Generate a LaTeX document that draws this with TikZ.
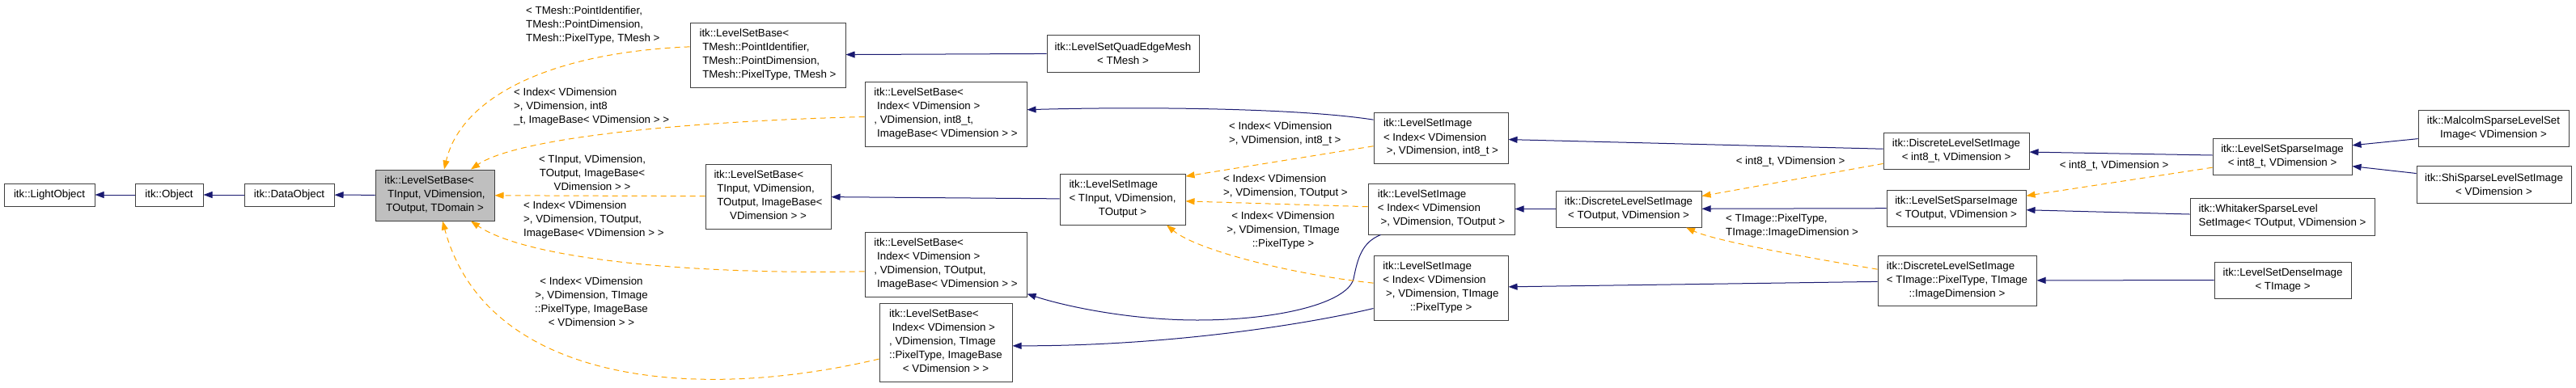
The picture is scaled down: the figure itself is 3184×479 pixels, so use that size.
\documentclass[tikz,border=0pt]{standalone}
\usepackage{fontspec}
\setmainfont{Liberation Sans}
\usetikzlibrary{arrows.meta}
\definecolor{dxblue}{HTML}{191970}
\definecolor{dxorange}{HTML}{FFA500}
\definecolor{dxgray}{HTML}{BFBFBF}
\newcommand{\indt}{\hspace*{.28em}}
\newcommand{\lastc}[2]{\begin{tabular}{@{}l@{}}#1\\\multicolumn{1}{@{}c@{}}{#2}\end{tabular}}

\begin{document}
\begin{tikzpicture}[x=1pt,y=-1pt,
	cls/.style={shape=rectangle,draw=black!75,line width=1pt,inner sep=0pt,font=\fontsize{13.3}{17}\selectfont},
	lbl/.style={inner sep=0pt,font=\fontsize{13.3}{17}\selectfont},
	inh/.style={draw=dxblue,line width=1pt,-{Triangle[length=11pt,width=8pt]}},
	tpl/.style={draw=dxorange,line width=1pt,dash pattern=on 7pt off 5pt,-{Triangle[length=11pt,width=8pt]}}]
		\useasboundingbox (0,0) rectangle (3184,479);
		\node[cls,minimum width=112pt,minimum height=28pt] (light) at (61,241) {itk::LightObject};
		\node[cls,minimum width=84pt,minimum height=28pt] (obj) at (209,241) {itk::Object};
		\node[cls,minimum width=111pt,minimum height=28pt] (data) at (357.5,241) {itk::DataObject};
		\node[cls,fill=dxgray,minimum width=147pt,minimum height=63pt] (base) at (537.5,241.5) {\lastc{itk::LevelSetBase<\\\indt TInput, VDimension,}{TOutput, TDomain >}};
		\node[cls,align=left,minimum width=192pt,minimum height=80pt] (lsbmesh) at (949,68) {itk::LevelSetBase<\\\indt TMesh::PointIdentifier,\\\indt TMesh::PointDimension,\\\indt TMesh::PixelType, TMesh >};
		\node[cls,align=left,minimum width=200pt,minimum height=80pt] (lsbint) at (1169,141) {itk::LevelSetBase<\\\indt Index< VDimension >\\, VDimension, int8\_t,\\\indt ImageBase< VDimension > >};
		\node[cls,minimum width=155pt,minimum height=80pt] (lsbin) at (949.5,243) {\lastc{itk::LevelSetBase<\\\indt TInput, VDimension,\\\indt TOutput, ImageBase<}{VDimension > >}};
		\node[cls,align=left,minimum width=200pt,minimum height=80pt] (lsbout) at (1169,327) {itk::LevelSetBase<\\\indt Index< VDimension >\\, VDimension, TOutput,\\\indt ImageBase< VDimension > >};
		\node[cls,minimum width=164pt,minimum height=97pt] (lsbimg) at (1169,423.5) {\lastc{itk::LevelSetBase<\\\indt Index< VDimension >\\, VDimension, TImage\\::PixelType, ImageBase}{< VDimension > >}};
		\node[cls,align=center,minimum width=188pt,minimum height=46pt] (quad) at (1388,66) {itk::LevelSetQuadEdgeMesh\\< TMesh >};
		\node[cls,minimum width=155pt,minimum height=63pt] (lsiin) at (1387.5,246.5) {\lastc{itk::LevelSetImage\\< TInput, VDimension,}{TOutput >}};
		\node[cls,align=left,minimum width=166pt,minimum height=63pt] (lsiint) at (1781,170.5) {itk::LevelSetImage\\< Index< VDimension\\\indt >, VDimension, int8\_t >};
		\node[cls,align=left,minimum width=181pt,minimum height=63pt] (lsiout) at (1781.5,258.5) {itk::LevelSetImage\\< Index< VDimension\\\indt >, VDimension, TOutput >};
		\node[cls,minimum width=166pt,minimum height=80pt] (lsiimg) at (1781,356) {\lastc{itk::LevelSetImage\\< Index< VDimension\\\indt >, VDimension, TImage}{::PixelType >}};
		\node[cls,align=center,minimum width=180pt,minimum height=45pt] (dlsiout) at (2013,258.5) {itk::DiscreteLevelSetImage\\< TOutput, VDimension >};
		\node[cls,align=center,minimum width=180pt,minimum height=45pt] (dlsiint) at (2418,186.5) {itk::DiscreteLevelSetImage\\< int8\_t, VDimension >};
		\node[cls,align=center,minimum width=172pt,minimum height=45pt] (lssiout) at (2418,257.5) {itk::LevelSetSparseImage\\< TOutput, VDimension >};
		\node[cls,minimum width=196pt,minimum height=62pt] (dlsiimg) at (2419,347) {\lastc{itk::DiscreteLevelSetImage\\< TImage::PixelType, TImage}{::ImageDimension >}};
		\node[cls,align=center,minimum width=172pt,minimum height=45pt] (lssiint) at (2821,193.5) {itk::LevelSetSparseImage\\< int8\_t, VDimension >};
		\node[cls,align=left,minimum width=228pt,minimum height=46pt] (whit) at (2821,268) {itk::WhitakerSparseLevel\\SetImage< TOutput, VDimension >};
		\node[cls,align=center,minimum width=169pt,minimum height=45pt] (dense) at (2821.5,346.5) {itk::LevelSetDenseImage\\< TImage >};
		\node[cls,align=center,minimum width=186pt,minimum height=45pt] (malc) at (3082,158.5) {itk::MalcolmSparseLevelSet\\Image< VDimension >};
		\node[cls,align=center,minimum width=191pt,minimum height=46pt] (shi) at (3082.5,228) {itk::ShiSparseLevelSetImage\\< VDimension >};

		\draw[inh] (obj) -- (light);
		\draw[inh] (data) -- (obj);
		\draw[inh] (base) -- (data);
		\draw[inh] (quad) -- (lsbmesh);
		\draw[inh] (lsiint.165) .. controls (1600,133) and (1400,132) .. (lsbint.3);
		\draw[inh] (lsiin) -- (lsbin);
		\draw[inh] ([xshift=-75pt]lsiout.south) .. controls (1683,300) and (1678,320) .. (1673,345) .. controls (1665,375) and (1580,396) .. (1480,396) .. controls (1400,396) and (1320,380) .. (lsbout.-20);
		\draw[inh] (lsiimg.197) .. controls (1620,400) and (1450,428) .. (lsbimg.-3);
		\draw[inh] (dlsiout) -- (lsiout);
		\draw[inh] (dlsiint) -- (lsiint);
		\draw[inh] (dlsiimg) -- (lsiimg);
		\draw[inh] (lssiout) -- (dlsiout);
		\draw[inh] (lssiint) -- (dlsiint);
		\draw[inh] (whit) -- (lssiout);
		\draw[inh] (dense) -- (dlsiimg);
		\draw[inh] (malc.188) -- (lssiint.9);
		\draw[inh] (shi.172) -- (lssiint.-8);

		\draw[tpl] (lsbmesh.174) .. controls (680,65) and (570,120) .. ([xshift=11.5pt]base.north);
		\draw[tpl] (lsbint.182) .. controls (850,150) and (640,170) .. ([xshift=44.5pt]base.north);
		\draw[tpl] (lsbin) -- (base);
		\draw[tpl] (lsbout.185) .. controls (850,340) and (650,320) .. ([xshift=44.5pt]base.south);
		\draw[tpl] (lsbimg.194) .. controls (850,500) and (600,470) .. ([xshift=9.5pt]base.south);
		\draw[tpl] (lsiint.187) -- (lsiin.20);
		\draw[tpl] (lsiout) -- (lsiin);
		\draw[tpl] (lsiimg.176) .. controls (1600,340) and (1480,310) .. ([xshift=54.5pt]lsiin.south);
		\draw[tpl] (dlsiint.190) -- (dlsiout.10);
		\draw[tpl] (dlsiimg.172) .. controls (2230,318) and (2120,298) .. ([xshift=71pt]dlsiout.south);
		\draw[tpl] (lssiint.189) -- (lssiout.10);

		\node[lbl,align=left,anchor=west] (lmesh) at (650,31) {< TMesh::PointIdentifier,\\TMesh::PointDimension,\\TMesh::PixelType, TMesh >};
		\node[lbl,align=left,anchor=west] (lint) at (635,132) {< Index< VDimension\\>, VDimension, int8\\\_t, ImageBase< VDimension > >};
		\node[lbl,align=center] (lin) at (732,214) {< TInput, VDimension,\\TOutput, ImageBase<\\VDimension > >};
		\node[lbl,align=left,anchor=west] (lout) at (647,272) {< Index< VDimension\\>, VDimension, TOutput,\\ImageBase< VDimension > >};
		\node[lbl,align=center] (limg) at (731,373) {< Index< VDimension\\>, VDimension, TImage\\::PixelType, ImageBase\\< VDimension > >};
		\node[lbl,align=left,anchor=west] (llsiint) at (1519,166) {< Index< VDimension\\>, VDimension, int8\_t >};
		\node[lbl,align=left,anchor=west] (llsiout) at (1512,231) {< Index< VDimension\\>, VDimension, TOutput >};
		\node[lbl,align=center] (llsiimg) at (1586,285) {< Index< VDimension\\>, VDimension, TImage\\::PixelType >};
		\node[lbl] (ldint) at (2213,200) {< int8\_t, VDimension >};
		\node[lbl,align=left,anchor=west] (ldimg) at (2133,280) {< TImage::PixelType,\\TImage::ImageDimension >};
		\node[lbl] (lsint) at (2613,205) {< int8\_t, VDimension >};
\end{tikzpicture}
\end{document}
